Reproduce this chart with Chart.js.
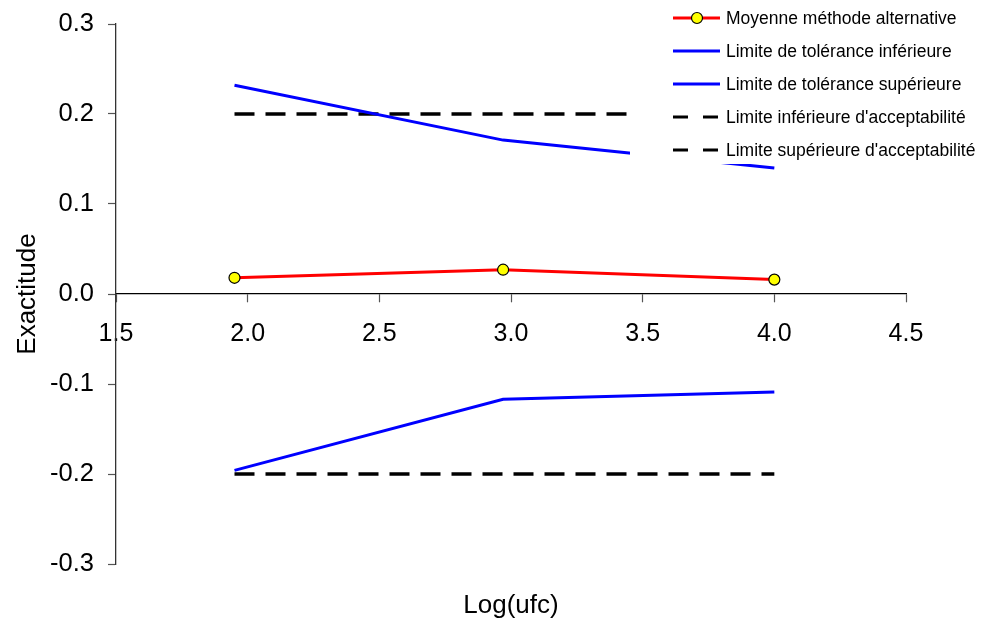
<!DOCTYPE html>
<html>
<head>
<meta charset="utf-8">
<script src="https://cdn.jsdelivr.net/npm/chart.js@4.4.1/dist/chart.umd.min.js"></script>
<style>
  html, body { margin: 0; padding: 0; background: #fff; }
  #box { width: 983px; height: 623px; }
</style>
</head>
<body>
<div id="box"><canvas id="chart"></canvas></div>
<script>
// Données
const logUfc = [1.95, 2.97, 4.0];
const moyenne = [0.018, 0.027, 0.016];
const tolInf = [-0.196, -0.117, -0.109];
const tolSup = [0.232, 0.171, 0.140];
const accInf = [-0.2, -0.2, -0.2];
const accSup = [0.2, 0.2, 0.2];

const xTicks = [1.5, 2.0, 2.5, 3.0, 3.5, 4.0, 4.5];
const yTicks = [-0.3, -0.2, -0.1, 0.0, 0.1, 0.2, 0.3];

const labels = [
  'Moyenne méthode alternative',
  'Limite de tolérance inférieure',
  'Limite de tolérance supérieure',
  "Limite inférieure d'acceptabilité",
  "Limite supérieure d'acceptabilité"
];
const xTitle = 'Log(ufc)';
const yTitle = 'Exactitude';

const FONT = "'Liberation Sans', Arial, sans-serif";

const pts = arr => logUfc.map((x, i) => ({ x, y: arr[i] }));

// Légende dessinée à la main (fond blanc par-dessus la zone du graphique)
// + titre de l'axe X centré sous la zone de tracé
const legendBox = {
  id: 'legendBox',
  afterDatasetsDraw(chart) {
    const ctx = chart.ctx;
    const area = chart.chartArea;
    ctx.save();
    ctx.fillStyle = '#fff';
    ctx.fillRect(630, 0, 353, 164);
    chart.data.datasets.forEach((ds, i) => {
      const y = 18 + i * 33;
      ctx.strokeStyle = ds.borderColor;
      ctx.lineWidth = 3;
      ctx.setLineDash(ds.borderDash ? [15, 15] : []);
      ctx.beginPath();
      ctx.moveTo(673, y);
      ctx.lineTo(720, y);
      ctx.stroke();
      ctx.setLineDash([]);
      if (ds.pointRadius > 0) {
        ctx.beginPath();
        ctx.arc(697, y, 5.5, 0, Math.PI * 2);
        ctx.fillStyle = ds.pointBackgroundColor;
        ctx.fill();
        ctx.lineWidth = 1.2;
        ctx.strokeStyle = ds.pointBorderColor;
        ctx.stroke();
      }
      ctx.fillStyle = '#000';
      ctx.font = '17.5px ' + FONT;
      ctx.textBaseline = 'middle';
      ctx.textAlign = 'left';
      ctx.fillText(ds.label, 726, y + 1);
    });

    ctx.fillStyle = '#000';
    ctx.font = '26px ' + FONT;
    ctx.textAlign = 'center';
    ctx.textBaseline = 'middle';
    ctx.fillText(xTitle, (area.left + area.right) / 2, 606);
    ctx.restore();
  }
};

const plainLine = (label, data, color, dash) => ({
  label,
  data: pts(data),
  borderColor: color,
  borderWidth: dash ? 3.5 : 3,
  borderDash: dash ? [20, 11] : undefined,
  pointRadius: 0,
  showLine: true,
  fill: false,
  tension: 0
});

new Chart(document.getElementById('chart'), {
  type: 'scatter',
  data: {
    datasets: [
      {
        label: labels[0],
        data: pts(moyenne),
        borderColor: '#ff0000',
        borderWidth: 3,
        showLine: true,
        pointRadius: 5.5,
        pointBackgroundColor: '#ffff00',
        pointBorderColor: '#000',
        pointBorderWidth: 1.2,
        tension: 0
      },
      plainLine(labels[1], tolInf, '#0000ff', false),
      plainLine(labels[2], tolSup, '#0000ff', false),
      plainLine(labels[3], accInf, '#000000', true),
      plainLine(labels[4], accSup, '#000000', true)
    ]
  },
  options: {
    responsive: true,
    maintainAspectRatio: false,
    animation: false,
    layout: { padding: { top: 24, right: 77, bottom: 59, left: 0 } },
    plugins: {
      legend: { display: false },
      tooltip: { enabled: false },
      title: { display: false }
    },
    scales: {
      x: {
        type: 'linear',
        position: { y: 0 },
        min: xTicks[0],
        max: xTicks[xTicks.length - 1],
        afterBuildTicks: s => { s.ticks = xTicks.map(v => ({ value: v })); },
        afterFit: s => { s.paddingTop = 0; s.paddingBottom = 0; },
        ticks: {
          color: '#000',
          font: { family: FONT, size: 25 },
          padding: 17,
          maxRotation: 0,
          callback: v => Number(v).toFixed(1)
        },
        grid: { drawOnChartArea: false, drawTicks: true, tickLength: 8, tickColor: '#555', tickWidth: 1.2 },
        border: { color: '#000', width: 1.3 }
      },
      y: {
        type: 'linear',
        min: yTicks[0],
        max: yTicks[yTicks.length - 1],
        afterBuildTicks: s => { s.ticks = yTicks.map(v => ({ value: v })); },
        afterFit: s => { s.width = 116; s.paddingTop = 0; s.paddingBottom = 0; },
        ticks: {
          color: '#000',
          font: { family: FONT, size: 25.5 },
          padding: 14,
          callback: v => Number(v).toFixed(1)
        },
        title: {
          display: true,
          text: yTitle,
          color: '#000',
          font: { family: FONT, size: 26 },
          padding: { top: 12, bottom: 0 }
        },
        grid: { drawOnChartArea: false, drawTicks: true, tickLength: 8, tickColor: '#555', tickWidth: 1.2 },
        border: { color: '#333', width: 1.3 }
      }
    }
  },
  plugins: [legendBox]
});
</script>
</body>
</html>
